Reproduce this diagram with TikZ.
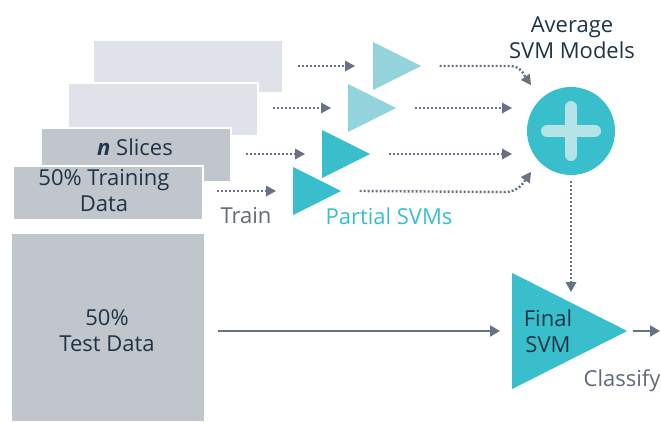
\documentclass[tikz,border=0pt]{standalone}
\usepackage{fontspec}
\setmainfont{Open Sans}
\usetikzlibrary{arrows.meta,shapes.geometric}
\definecolor{lightslab}{HTML}{DFE2E8}
\definecolor{darkslab}{HTML}{C1C5CC}
\definecolor{teal}{HTML}{38BFCB}
\definecolor{lightteal}{HTML}{93D4DC}
\definecolor{plusc}{HTML}{B4E3E8}
\definecolor{arrowc}{HTML}{687284}
\definecolor{navy}{HTML}{1E3448}
\definecolor{graytext}{HTML}{5F6B7A}
\tikzset{
  slab/.style={draw=white, line width=1.5pt, anchor=north west, inner sep=0pt},
  tri/.style={isosceles triangle, isosceles triangle stretches=true, inner sep=0pt, anchor=west},
  dotarrow/.style={arrowc, line width=2.4pt, dash pattern=on 2pt off 2pt, -{Triangle[length=10pt,width=11pt,line width=0pt]}, shorten >=0pt},
  solidarrow/.style={arrowc, line width=2.2pt, -{Triangle[length=10pt,width=11pt]}},
  lbl/.style={font=\fontsize{22}{26}\selectfont, text=navy, align=center},
  plain/.style={font=\fontsize{22}{26}\selectfont},
}
\begin{document}
\begin{tikzpicture}[x=1pt,y=-1pt]
\useasboundingbox (0,0) rectangle (661,421);
% slabs
\node[slab, fill=lightslab, minimum width=190pt, minimum height=53pt] (s1) at (92,39) {};
\node[slab, fill=lightslab, minimum width=190pt, minimum height=53pt] (s2) at (67,82) {};
\node[slab, fill=darkslab, minimum width=190pt, minimum height=54pt] (s3) at (40,127) {};
\node[slab, fill=darkslab, minimum width=190pt, minimum height=54pt] (s4) at (12,165) {};
\node[lbl] at (135,147) {\textbf{\textit{n}} Slices};
\node[lbl] (tr) at (104,191) {50\% Training\\Data};
\node[slab, fill=darkslab, minimum width=194pt, minimum height=189pt] (test) at (10,232) {};
\node[lbl] at (107,331) {50\%\\Test Data};
% partial SVMs
\node[tri, fill=lightteal, minimum height=48pt, minimum width=48pt] (p1) at (373,66) {};
\node[tri, fill=lightteal, minimum height=48pt, minimum width=48pt] (p2) at (348,108) {};
\node[tri, fill=teal, minimum height=48pt, minimum width=48pt] (p3) at (322,154) {};
\node[tri, fill=teal, minimum height=48pt, minimum width=48pt] (p4) at (293,191) {};
% inputs
\coordinate (i1) at (298,66);
\coordinate (i2) at (273,108);
\coordinate (i3) at (246,154);
\coordinate (i4) at (217,191);
\draw[dotarrow] (i1) -- ([xshift=-18pt]p1.west);
\draw[dotarrow] (i2) -- ([xshift=-17pt]p2.west);
\draw[dotarrow] (i3) -- ([xshift=-17pt]p3.west);
\draw[dotarrow] (i4) -- ([xshift=-17pt]p4.west);
\node[plain, text=graytext] (train) at (246,216) {Train};
\node[plain, text=teal] (psvm) at (389,216) {Partial SVMs};
% circle
\node[circle, fill=teal, minimum size=88pt, inner sep=0pt] (avg) at (571,131) {};
\draw[plusc, line width=12pt, line cap=round] ([xshift=-24pt]avg.center) -- ([xshift=24pt]avg.center);
\draw[plusc, line width=12pt, line cap=round] ([yshift=-24pt]avg.center) -- ([yshift=24pt]avg.center);
\node[lbl] (avgl) at (572,38) {Average\\SVM Models};
% to circle
\draw[dotarrow] ([xshift=18pt]p1.apex) -- (510,66) to[out=0,in=125] (531,85);
\draw[dotarrow] ([xshift=18pt]p2.apex) -- (512,108);
\draw[dotarrow] ([xshift=18pt]p3.apex) -- (512,154);
\draw[dotarrow] ([xshift=18pt]p4.apex) -- (505,192) to[out=0,in=-125] (531,172);
% final
\node[tri, fill=teal, minimum height=115pt, minimum width=116pt] (fin) at (512,331) {};
\node[lbl, text=navy] (finl) at (548,331) {Final\\SVM};
\draw[dotarrow] (avg.south) ++(0,6) -- (571,292);
\coordinate (tstart) at (218,331);
\draw[solidarrow] (tstart) -- ([xshift=-12pt]fin.west);
\coordinate (outend) at (660,331);
\draw[solidarrow] ([xshift=5pt]fin.apex) -- (outend);
\node[plain, text=graytext] (cls) at (622,381) {Classify};
\end{tikzpicture}
\end{document}
